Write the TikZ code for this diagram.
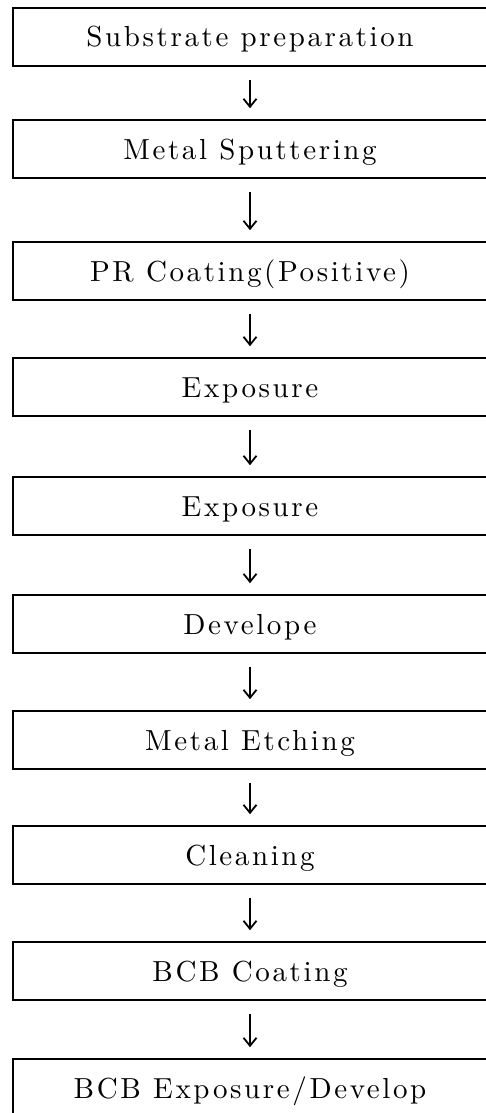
\documentclass[tikz,border=0pt]{standalone}
\usepackage{fontspec}
\setmainfont{lmroman10-regular}[Extension=.otf,LetterSpace=9]
\usetikzlibrary{arrows.meta}

\begin{document}
\begin{tikzpicture}[x=1pt,y=-1pt,
  stepbox/.style={draw,line width=1.6pt,rectangle,minimum width=474pt,minimum height=58pt,
    text height=20pt,text depth=0pt,font=\fontsize{29}{34}\selectfont},
  flow/.style={line width=1.8pt,-{Straight Barb[length=8pt,width=13pt,line width=1.8pt]},
    shorten <=13pt,shorten >=11pt}]
\useasboundingbox (0,0) rectangle (486,1113);
\clip (0,0) rectangle (486,1113);

\node[stepbox] at (250,37) (sub) {Substrate preparation};
\node[stepbox] at (250,149) (sput) {Metal Sputtering};
\node[stepbox] at (250,271) (prc) {PR Coating(Positive)};
\node[stepbox] at (250,387) (exp1) {Exposure};
\node[stepbox] at (250,506) (exp2) {Exposure};
\node[stepbox] at (250,624) (dev) {Develope};
\node[stepbox] at (250,740) (etch) {Metal Etching};
\node[stepbox] at (250,855) (clean) {Cleaning};
\node[stepbox] at (250,971) (bcbc) {BCB Coating};
\node[stepbox] at (250,1088) (bcbe) {BCB Exposure/Develop};

\draw[flow] (sub) -- (sput);
\draw[flow] (sput) -- (prc);
\draw[flow] (prc) -- (exp1);
\draw[flow] (exp1) -- (exp2);
\draw[flow] (exp2) -- (dev);
\draw[flow] (dev) -- (etch);
\draw[flow] (etch) -- (clean);
\draw[flow] (clean) -- (bcbc);
\draw[flow] (bcbc) -- (bcbe);
\end{tikzpicture}
\end{document}
